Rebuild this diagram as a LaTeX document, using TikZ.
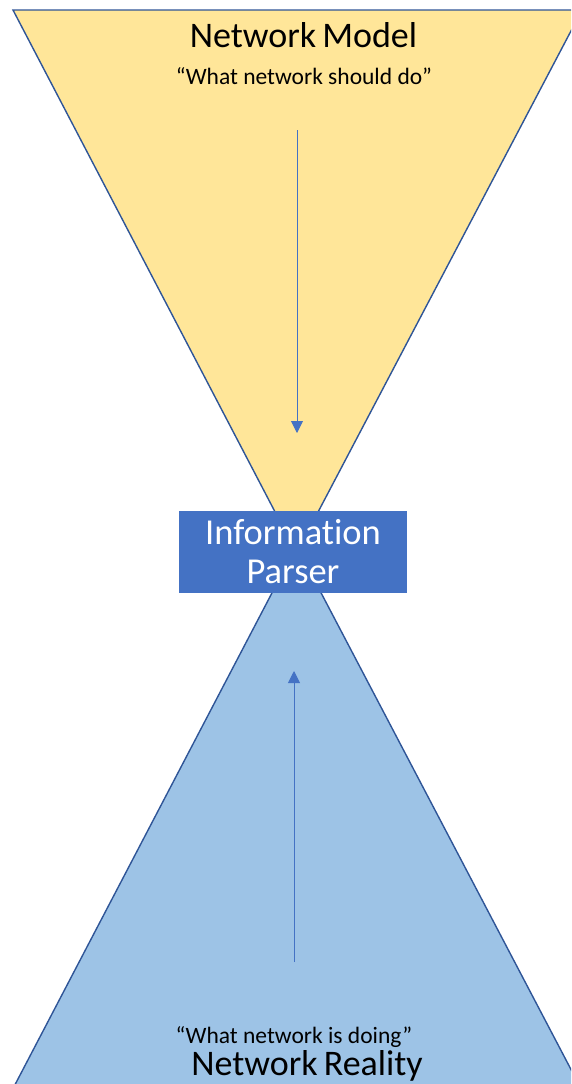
\documentclass[tikz,border=0pt]{standalone}
\usepackage{fontspec}
\setmainfont{Carlito}[Ligatures=NoCommon]
\usetikzlibrary{arrows.meta}
\definecolor{modelfill}{HTML}{FFE699}
\definecolor{realfill}{HTML}{9DC3E6}
\definecolor{edgeblue}{HTML}{2F5597}
\definecolor{accent}{HTML}{4472C4}
\tikzset{
  cone/.style={draw=edgeblue, line width=1.4pt, line join=miter},
  flow/.style={draw=accent, line width=0.9pt, -{Triangle[width=12pt,length=12pt]}},
  bigtitle/.style={font=\fontsize{36}{40}\selectfont, inner sep=0pt, anchor=base},
  quote/.style={font=\fontsize{23.5}{28}\selectfont, inner sep=0pt, anchor=base},
  parser/.style={fill=accent, draw=none, minimum width=228pt, minimum height=82pt,
    text=white, font=\fontsize{36.5}{42}\selectfont, align=center, inner sep=0pt}
}
\begin{document}
\begin{tikzpicture}[x=1pt, y=-1pt]
  \useasboundingbox (0,0) rectangle (571,1084);
  \clip (0,0) rectangle (571,1084);
  % upper cone: the model
  \path[cone, fill=modelfill] (13,10) -- (582,10) -- (296.5,553) -- cycle;
  % lower cone: the reality
  \path[cone, fill=realfill] (296.5,546) -- (587,1100) -- (7,1100) -- cycle;
  % parser in the waist
  \node[parser] (parser) at (293,552) {Information\\[-3pt]Parser};
  % labels
  \node[bigtitle] (model) at (303.5,47) {Network\hspace{-2pt} Model};
  \node[quote] (should) at (304,84) {“What network should do”};
  \node[quote] (doing) at (294,1043) {“What network is doing”};
  \node[bigtitle] (reality) at (307,1075) {Network\hspace{-2pt} Reality};
  % flows toward the parser
  \coordinate (downstart) at (297,130);
  \coordinate (downend) at (297,433);
  \coordinate (upstart) at (294,962);
  \coordinate (upend) at (294,671);
  \draw[flow] (downstart) -- (downend);
  \draw[flow] (upstart) -- (upend);
\end{tikzpicture}
\end{document}
